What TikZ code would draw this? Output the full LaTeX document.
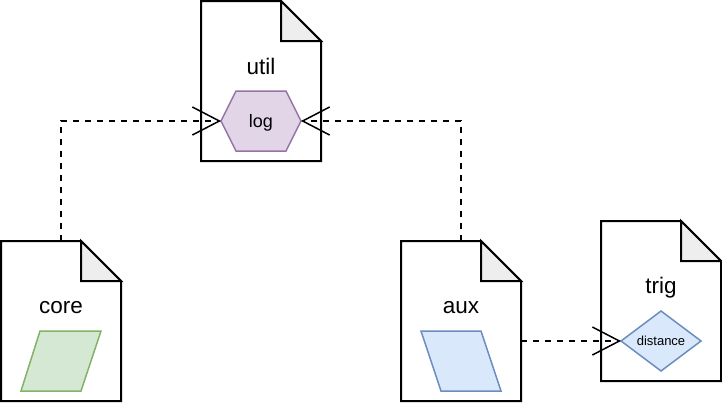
\documentclass[tikz,border=0pt]{standalone}
\usepackage{fontspec}
\setmainfont{Liberation Sans}
\usetikzlibrary{arrows.meta,shapes.geometric}
\definecolor{hexfill}{HTML}{E1D5E7}
\definecolor{hexdraw}{HTML}{9673A6}
\definecolor{grnfill}{HTML}{D5E8D4}
\definecolor{grndraw}{HTML}{82B366}
\definecolor{blufill}{HTML}{DAE8FC}
\definecolor{bludraw}{HTML}{6C8EBF}
\definecolor{foldfill}{HTML}{EEEEEE}
\newcommand\docoutline[1]{%
  \draw[docline] (#1.south west) -- (#1.north west) -- ([xshift=-40pt]#1.north east)
     -- ([yshift=-40pt]#1.north east) -- (#1.south east) -- cycle;
  \draw[docline,fill=foldfill] ([xshift=-40pt]#1.north east) -- ([xshift=-40pt,yshift=-40pt]#1.north east)
     -- ([yshift=-40pt]#1.north east) -- cycle;}
\begin{document}
\begin{tikzpicture}[x=1pt,y=-1pt,
  docbox/.style={rectangle,draw=none,minimum width=120pt,minimum height=160pt,inner sep=0pt,outer sep=0pt},
  docline/.style={line width=2pt,line join=miter,draw=black},
  doclabel/.style={font=\fontsize{22.5}{26}\selectfont,inner sep=0pt,anchor=base},
  hexbox/.style={rectangle,draw=none,minimum width=80pt,minimum height=60pt,inner sep=0pt,outer sep=0pt},
  hexline/.style={draw=hexdraw,fill=hexfill,line width=1.5pt},
  grnpar/.style={draw=grndraw,fill=grnfill,line width=1.5pt},
  blupar/.style={draw=bludraw,fill=blufill,line width=1.5pt},
  distshape/.style={diamond,aspect=1.333,draw=bludraw,fill=blufill,line width=1.5pt,minimum width=80pt,minimum height=60pt,inner sep=0pt,outer sep=0pt,font=\fontsize{13}{15}\selectfont},
  dep/.style={draw=black,line width=1.5pt,dash pattern=on 6pt off 6pt,-{Straight Barb[length=27pt,width=28pt,line width=1.5pt]}}
]
\useasboundingbox (0,0) rectangle (722,402);
\fill[white] (0,0) rectangle (722,402);
% documents
\node[docbox] (util) at (261,81) {};
\node[docbox] (core) at (61,321) {};
\node[docbox] (aux) at (461,321) {};
\node[docbox] (trig) at (661,301) {};
\docoutline{util}
\docoutline{core}
\docoutline{aux}
\docoutline{trig}
\node[doclabel] (utillbl) at (261,74) {util};
\node[doclabel] (corelbl) at (61,313) {core};
\node[doclabel] (auxlbl) at (461,313) {aux};
\node[doclabel] (triglbl) at (661,293) {trig};
% hexagon
\node[hexbox] (log) at (261,121) {};
\draw[hexline] (log.west) -- ([xshift=15pt]log.north west) -- ([xshift=-15pt]log.north east)
   -- (log.east) -- ([xshift=-15pt]log.south east) -- ([xshift=15pt]log.south west) -- cycle;
\node[font=\fontsize{18}{21}\selectfont,inner sep=0pt,anchor=base] (logtxt) at (261,127) {log};
% parallelograms
\draw[grnpar] (40,331) -- (101,331) -- (81,391) -- (21,391) -- cycle;
\draw[blupar] (421,331) -- (481,331) -- (501,391) -- (441,391) -- cycle;
% diamond
\node[distshape] (dist) at (661,341) {distance};
% connectors
\draw[dep] (core.north) |- (log.west);
\draw[dep] (aux.north) |- (log.east);
\draw[dep] (aux.east |- dist.west) -- (dist.west);
\end{tikzpicture}
\end{document}
